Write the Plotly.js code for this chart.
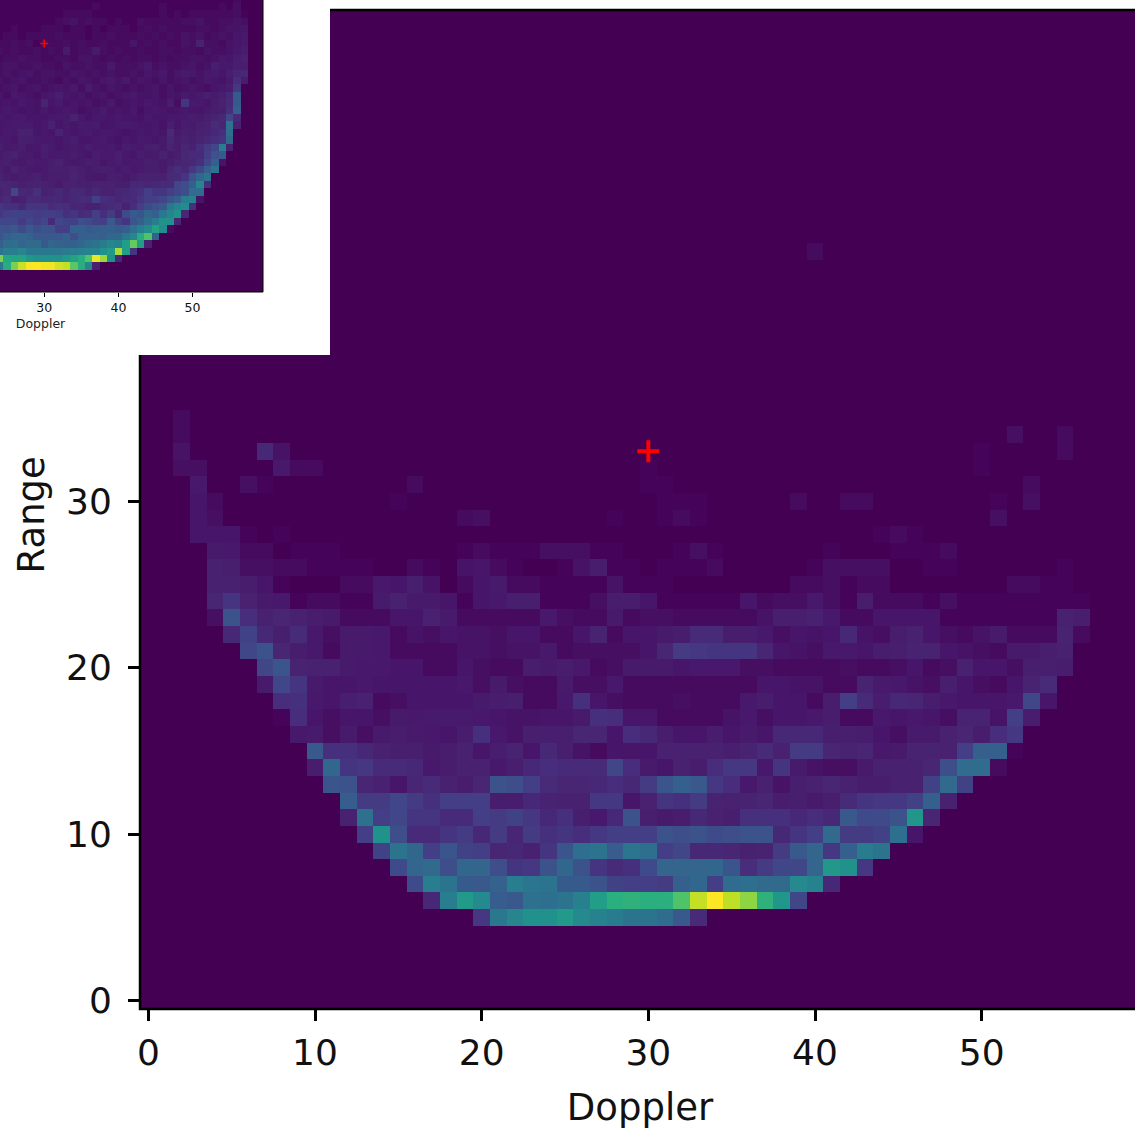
<!DOCTYPE html>
<html>
<head>
<meta charset="utf-8">
<script src="https://cdn.plot.ly/plotly-3.0.1.min.js"></script>
<style>
html,body{margin:0;padding:0;width:1135px;height:1131px;overflow:hidden;background:#fff}
#main{position:absolute;left:0;top:0;width:1141px;height:1131px;z-index:1}
#inset{position:absolute;left:-182px;top:-153px;width:512px;height:508px;z-index:2;background:#fff}
</style>
</head>
<body>
<div id="main"></div>
<div id="inset"></div>
<script>
// Values are percent of the colour range.
const mainFirstRow = 5;
const mainStartCols = [20,17,16,15,14,13,12,12,11,10,10,9,8,8,7,7,6,5,4,4,4,4,4];
const mainRows = [
[18,40,45,50,50,54,47,44,41,38,38,35,27,14],
[13,42,54,47,29,27,37,36,38,43,55,63,64,63,63,72,91,100,90,83,64,52,22],
[23,42,38,28,27,31,42,39,38,28,28,25,21,20,20,19,30,33,20,35,36,34,34,47,44,13],
[23,32,34,24,33,32,24,17,18,25,33,25,17,14,16,23,32,32,32,33,26,15,19,22,22,32,53,50,18],
[21,38,33,20,26,21,20,12,13,10,17,26,36,38,29,39,36,20,22,13,13,12,10,11,19,27,32,18,30,41,38],
[20,50,24,14,14,17,19,13,19,12,19,16,17,15,18,20,20,20,25,24,25,23,24,25,25,13,17,20,34,19,19,21,36,5],
[10,37,20,22,17,17,14,14,20,19,21,18,13,16,9,6,13,25,9,7,8,13,10,9,16,16,16,13,15,13,27,23,23,25,52,12],
[29,19,19,22,19,16,20,20,20,8,8,13,11,10,10,18,18,5,10,17,16,19,11,10,11,12,8,9,7,9,14,17,18,18,21,30,10],
[26,25,12,10,5,12,14,10,8,12,25,24,20,14,12,12,13,15,13,19,26,30,27,18,15,6,10,4,9,10,12,10,8,8,10,10,21,34,21],
[8,33,17,18,14,14,13,6,8,10,10,6,9,13,15,14,14,14,22,15,7,5,10,8,15,18,18,6,17,7,4,3,3,7,10,10,10,12,24,35,35,2],
[27,16,16,13,10,9,9,7,8,10,5,8,11,5,13,9,4,2,5,5,5,10,10,10,10,9,11,14,10,19,19,12,11,12,6,7,11,11,10,20,30,30,1],
[6,7,3,7,3,7,8,7,6,5,8,16,6,4,9,9,9,12,12,5,15,13,8,5,5,8,5,7,5,13,13,13,9,9,8,5,3,7,7,10,12,8,15,18],
[1,15,5,3,5,5,3,7,6,7,7,7,6,5,4,4,5,5,7,16,15,5,5,2,2,2,2,4,6,3,5,5,6,8,2,2,6,5,6,5,3,11,11,4,20,8],
[15,16,6,5,9,10,2,3,5,5,5,5,7,8,9,2,2,6,16,5,3,2,2,2,3,2,2,2,6,8,5,5,2,8,20,14,8,13,12,8,6,5,5,5,6,22,5],
[7,22,17,7,5,5,6,5,5,5,5,5,6,3,7,3,2,2,7,3,3,6,2,2,2,2,2,2,2,2,5,5,4,4,2,2,11,7,6,4,3,9,5,3,2,5,11,14],
[22,26,11,10,10,7,6,6,5,5,2,2,5,3,2,2,8,7,8,6,2,3,7,7,7,5,6,6,6,3,3,2,2,2,2,3,2,2,3,5,2,3,10,5,5,3,9,9,8],
[22,25,12,8,6,2,7,7,6,2,2,2,2,4,4,3,4,4,6,2,3,3,3,3,5,12,19,18,17,17,17,12,5,4,3,6,6,5,8,9,11,11,5,4,3,2,7,7,9,10],
[13,21,13,9,14,6,3,7,7,6,2,4,3,5,4,4,3,5,5,2,2,5,11,2,5,5,7,8,14,14,8,8,6,3,5,4,5,13,4,3,8,10,5,3,2,4,7,2,2,2,11,2],
[3,25,15,10,12,10,8,7,2,2,2,5,5,10,7,2,2,2,2,2,6,3,2,2,7,2,3,3,2,2,2,2,2,4,9,9,10,6,2,2,5,5,5,5,1,1,1,1,1,1,1,10,9],
[12,17,10,7,6,1,2,2,1,1,7,10,7,7,5,1,5,6,9,9,1,1,1,3,8,8,5,1,1,1,1,1,5,2,3,3,6,3,1,8,2,2,2,1,3,1,1,1,1,1,1,1,1],
[10,10,8,5,1,0,0,0,2,2,6,5,9,4,0,2,5,7,2,2,1,1,1,1,4,1,1,1,0,0,0,0,0,0,0,2,2,3,1,2,2,0,0,0,0,0,0,0,2,2,1,1],
[10,9,3,3,2,2,1,1,1,1,0,0,2,1,0,4,5,2,1,0,0,1,4,8,1,1,0,1,1,1,2,0,0,0,0,0,1,3,3,3,3,0,0,1,1,0,0,0,0,0,0,1],
[7,6,2,2,0,1,1,1,0,0,0,0,0,0,0,1,2,1,1,1,3,3,3,1,1,0,0,0,1,3,1,0,0,0,0,0,0,1,0,0,0,1,1,1,2]
];
const faintCols = [3,4,5,6,8,44,45,46, 3,4,19,20,28,31,32,33,51, 3,4,15,31,32,33,39,42,43,51,53, 3,6,7,16,30,31,53, 2,3,8,9,10,30,50, 2,7,8,50,55, 2,52,55, 2, 40];
const faintRows = [28,28,28,28,28,28,28,28, 29,29,29,29,29,29,29,29,29, 30,30,30,30,30,30,30,30,30,30,30, 31,31,31,31,31,31,31, 32,32,32,32,32,32,32, 33,33,33,33,33, 34,34,34, 35, 45];
const faintVals = [5,5,5,1,1,1,2,1, 5,3,2,3,1,1,2,1,3, 5,2,1,1,1,1,2,2,2,1,3, 6,3,1,2,1,1,2, 3,3,6,2,2,1,1, 4,13,4,1,2, 2,3,2, 2, 2];

const insetFirstRow = 3;
const insetFirstCol = 24;
const insetRows = [
[40,62,80,92,99,100,98,98,93,91,74,62,45,10],
[80,60,58,58,52,50,50,50,50,53,57,62,72,97,85,50,13],
[38,42,42,45,40,40,40,40,40,41,42,43,44,44,50,54,87,55,17],
[30,35,36,32,34,34,28,32,31,30,30,33,36,38,41,46,44,55,76,55,10],
[26,30,32,32,31,27,27,27,27,30,24,30,31,31,30,33,33,40,45,62,72,30],
[26,25,27,23,27,24,26,25,20,20,30,30,28,29,30,30,28,29,37,42,47,58,48,2],
[22,22,22,19,22,20,22,14,22,21,20,24,23,21,20,27,21,17,26,30,36,42,50,50,12],
[18,20,21,21,20,19,20,20,19,16,17,14,15,20,15,19,13,23,28,26,32,30,40,45,50,12],
[17,16,16,13,17,17,17,14,16,15,12,12,10,10,13,14,15,10,15,20,23,25,27,40,46,48,16],
[12,14,9,10,14,14,12,13,13,11,13,14,14,20,15,14,12,14,14,17,20,20,22,26,30,42,44,4],
[10,12,22,13,12,16,10,11,13,11,13,13,10,13,10,10,12,13,14,16,20,17,17,20,22,24,35,35],
[12,12,11,9,10,11,10,9,7,10,10,9,9,10,10,10,9,9,13,13,12,13,14,14,22,24,30,45,15],
[10,8,7,8,8,10,7,8,8,8,11,9,7,6,6,9,8,6,8,10,10,10,10,14,14,17,25,33,38],
[9,7,11,8,7,6,7,9,9,9,10,8,7,8,9,8,6,8,6,7,8,8,7,12,15,13,18,22,30,38],
[8,9,7,6,8,7,6,8,10,7,6,7,9,8,5,7,8,6,7,6,9,8,7,9,11,12,13,16,22,30,4],
[7,9,10,7,7,5,8,6,7,7,8,6,5,8,7,6,9,6,5,8,7,7,10,7,9,13,14,14,20,25,27],
[8,6,7,8,5,6,9,7,5,6,7,6,8,6,6,7,5,8,7,6,8,9,7,11,8,12,10,15,19,22,42,10],
[7,6,5,9,8,7,6,6,5,7,8,5,5,6,7,5,4,6,5,7,6,5,7,12,8,10,9,11,13,15,17,33],
[5,7,6,10,10,5,6,5,11,6,5,6,7,5,6,6,5,4,5,6,5,6,5,14,7,9,8,10,11,13,16,36],
[5,6,7,6,7,5,6,10,5,7,5,7,6,7,4,5,6,7,6,5,5,6,4,9,5,8,7,9,10,14,12,38,10],
[6,5,6,7,5,5,5,6,6,7,10,6,4,6,6,5,6,5,5,4,6,5,5,6,6,7,8,7,9,11,13,22,14],
[5,6,5,4,5,4,6,4,5,6,5,3,4,5,7,4,5,4,6,3,5,6,5,4,5,6,5,5,7,8,9,15,30],
[4,5,4,6,5,4,11,5,7,4,5,4,5,3,4,6,3,4,5,4,6,5,4,8,3,17,7,6,5,8,10,14,28],
[5,3,6,5,4,3,5,6,9,5,4,5,3,4,5,3,4,5,6,4,4,5,3,5,4,7,5,7,9,7,9,13,28],
[3,4,5,3,4,5,3,4,5,4,6,3,7,4,3,5,4,3,4,3,4,5,3,5,3,4,5,4,3,5,6,8,18],
[4,3,4,5,3,3,4,3,2,4,3,5,4,3,5,6,4,6,3,5,4,3,5,3,4,5,3,4,6,5,4,7,15,8],
[3,4,3,4,5,3,4,4,3,3,5,4,3,4,3,4,3,3,4,3,5,4,6,3,5,7,6,4,6,7,5,9,12,13],
[3,4,4,3,3,4,3,3,2,4,3,3,4,3,3,6,3,3,3,4,6,3,4,3,3,4,5,3,4,9,6,6,9,8],
[2,3,3,4,3,3,2,2,3,3,2,4,4,3,2,3,2,3,2,3,3,2,3,2,3,3,4,4,3,4,6,5,8,10],
[3,2,3,2,2,3,2,3,2,7,2,3,3,7,3,2,3,2,2,3,2,2,3,3,2,3,3,2,4,3,3,4,6,8],
[2,2,3,2,3,1,3,2,2,3,2,3,2,2,3,2,2,2,5,2,3,2,3,2,2,4,3,10,3,3,2,4,5,7],
[1,2,2,1,2,2,2,2,3,2,2,2,1,2,2,3,2,2,2,3,2,3,2,3,2,4,3,4,2,3,4,3,5,6],
[1,1,2,1,1,1,2,2,2,1,2,2,1,2,1,2,2,2,1,2,3,2,3,2,2,2,2,3,3,2,3,4,4,5],
[1,1,1,1,1,1,1,1,2,3,4,2,3,2,2,1,2,1,1,3,2,2,2,2,2,3,3,4,2,2,3,3,4,3],
[1,1,1,1,1,1,1,1,1,2,2,2,2,1,1,1,1,1,1,1,1,1,2,1,2,1,2,2,2,2,2,2,3,1],
[1,1,1,1,1,1,1,1,1,1,1,1,1,2,1,1,1,1,1,1,1,1,2,1,1,1,1,1,1,1,2,1,3],
[1,1,1,1,1,1,1,1,1,1,1,1,1,1,1,1,1,1,1,1,1,1,1,1,1,1,1,1,1,1,1,1,2]
];
const gridSize = 60;
const peakCol = [30];
const peakRow = [33];
const mainTicks = [0,10,20,30,40,50];
const insetXTicks = [30,40,50];
const xLabel = 'Doppler';
const yLabel = 'Range';

const axisIdx = Array.from({length: gridSize}, (_, i) => i);
const mainZ = axisIdx.map(() => axisIdx.map(() => 0));
mainRows.forEach((row, i) => row.forEach((v, j) => { mainZ[mainFirstRow + i][mainStartCols[i] + j] = v; }));
faintVals.forEach((v, i) => { mainZ[faintRows[i]][faintCols[i]] = v; });
const insetZ = axisIdx.map(() => axisIdx.map(() => 0));
insetRows.forEach((row, i) => row.forEach((v, j) => { insetZ[insetFirstRow + i][insetFirstCol + j] = v; }));

const FONT = '"DejaVu Sans", sans-serif';
const scale = [[0,'#440154'],[.01,'#450459'],[.03,'#460f62'],[.05,'#47166a'],[.1,'#482170'],[.15,'#472d7b'],[.2,'#433e85'],[.25,'#3b528b'],[.3,'#35608d'],
  [.4,'#2a788e'],[.5,'#21918c'],[.6,'#22a884'],[.7,'#44bf70'],[.8,'#7ad151'],[.9,'#bddf26'],[1,'#fde725']];
function traces(z, plusSize, plusWidth) {
  return [
    {type: 'heatmap', x: axisIdx, y: axisIdx, z: z, colorscale: scale, zmin: 0, zmax: 100, showscale: false, hoverinfo: 'skip'},
    {type: 'scatter', mode: 'markers', x: peakCol, y: peakRow, hoverinfo: 'skip', showlegend: false,
     marker: {symbol: 'cross-thin', size: plusSize, color: '#ff0000', line: {color: '#ff0000', width: plusWidth}}}
  ];
}
function axis(ticks, fontSize, len, w) {
  return {range: [-0.5, 59.5], tickmode: 'array', tickvals: ticks, ticks: 'outside', ticklen: len, tickwidth: w,
    tickcolor: '#000', showgrid: false, zeroline: false, showline: false,
    tickfont: {family: FONT, size: fontSize, color: '#111'}};
}
function frame(w) {
  return {type: 'rect', xref: 'paper', yref: 'paper', x0: 0, x1: 1, y0: 0, y1: 1, layer: 'above', line: {color: '#000', width: w}};
}
const mainX = axis(mainTicks, 36, 11, 2.5);
mainX.title = {text: xLabel, font: {family: FONT, size: 37, color: '#111'}, standoff: 21};
mainX.ticklabelstandoff = 1;
const mainY = axis(mainTicks, 36, 11, 2.5);
mainY.ticklabelstandoff = 9;
const mainLayout = {
  width: 1141, height: 1131, margin: {l: 139.5, r: 0.7, t: 10, b: 122},
  paper_bgcolor: '#fff', plot_bgcolor: '#440154', showlegend: false, font: {family: FONT},
  xaxis: mainX, yaxis: mainY, shapes: [frame(2.5)],
  annotations: [{text: yLabel, xref: 'paper', yref: 'paper', x: -0.1076, y: 0.4945, xanchor: 'center', yanchor: 'middle',
    textangle: -90, showarrow: false, font: {family: FONT, size: 37, color: '#111'}}]
};
const insetX = axis(insetXTicks, 12.5, 4, 1);
insetX.title = {text: xLabel, font: {family: FONT, size: 12.5, color: '#222'}, standoff: 5};
const insetY = axis([], 12.5, 4, 1);
insetY.showticklabels = false;
const insetLayout = {
  width: 512, height: 508, margin: {l: 0, r: 67, t: 0, b: 63},
  paper_bgcolor: '#fff', plot_bgcolor: '#440154', showlegend: false, font: {family: FONT},
  xaxis: insetX, yaxis: insetY, shapes: [frame(1)]
};
const cfg = {displayModeBar: false, responsive: false};
Plotly.newPlot('main', traces(mainZ, 15.7, 4), mainLayout, cfg);
Plotly.newPlot('inset', traces(insetZ, 5.7, 1.6), insetLayout, cfg);
</script>
</body>
</html>
